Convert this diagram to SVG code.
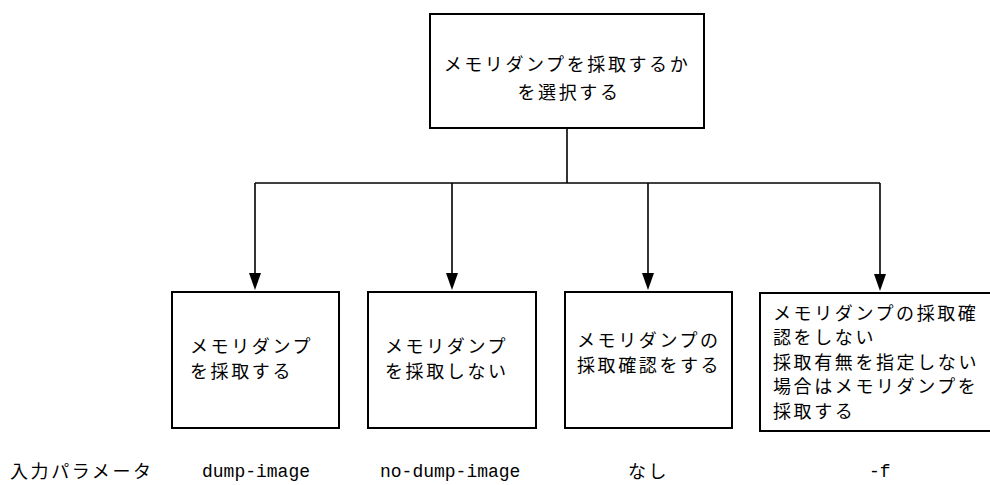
<svg xmlns="http://www.w3.org/2000/svg" width="990" height="485" viewBox="0 0 990 485">
<style>
.box{fill:#fff;stroke:#000;stroke-width:2}
.ln{fill:none;stroke:#000;stroke-width:1.6}
.jp{font-family:"Noto Sans CJK JP","Noto Sans CJK SC",sans-serif;font-size:18px;letter-spacing:2.6px;fill:#000}
.mono{font-family:"Liberation Mono",monospace;font-size:18px;fill:#000}
</style>
<rect width="990" height="485" fill="#fff"/>
<g id="connectors">
<line class="ln" x1="567" y1="128" x2="567" y2="183"/>
<line class="ln" x1="255" y1="183" x2="880" y2="183"/>
<line class="ln" x1="255" y1="183" x2="255" y2="274"/>
<path d="M249,273 L261,273 L255,290 Z" fill="#000"/>
<line class="ln" x1="452" y1="183" x2="452" y2="274"/>
<path d="M446,273 L458,273 L452,290 Z" fill="#000"/>
<line class="ln" x1="648" y1="183" x2="648" y2="274"/>
<path d="M642,273 L654,273 L648,290 Z" fill="#000"/>
<line class="ln" x1="880" y1="183" x2="880" y2="275"/>
<path d="M874,274 L886,274 L880,291 Z" fill="#000"/>
</g>
<g id="top">
<rect class="box" x="430" y="14" width="274" height="114"/>
<text class="jp" x="567" y="71" text-anchor="middle">メモリダンプを採取するか</text>
<text class="jp" x="569" y="99" text-anchor="middle">を選択する</text>
</g>
<g id="n1">
<rect class="box" x="172" y="292" width="167" height="136"/>
<text class="jp" x="190" y="353">メモリダンプ</text>
<text class="jp" x="190" y="378">を採取する</text>
</g>
<g id="n2">
<rect class="box" x="368" y="292" width="168" height="136"/>
<text class="jp" x="385" y="353">メモリダンプ</text>
<text class="jp" x="385" y="378">を採取しない</text>
</g>
<g id="n3">
<rect class="box" x="565" y="292" width="167" height="136"/>
<text class="jp" x="577" y="347">メモリダンプの</text>
<text class="jp" x="577" y="372">採取確認をする</text>
</g>
<g id="n4">
<rect class="box" x="760" y="293" width="240" height="138"/>
<text class="jp" x="773" y="320">メモリダンプの採取確</text>
<text class="jp" x="773" y="344">認をしない</text>
<text class="jp" x="773" y="369">採取有無を指定しない</text>
<text class="jp" x="773" y="393">場合はメモリダンプを</text>
<text class="jp" x="773" y="418">採取する</text>
</g>
<g id="params">
<text class="jp" x="10" y="478">入力パラメータ</text>
<text class="mono" x="202" y="477">dump-image</text>
<text class="mono" x="380" y="477">no-dump-image</text>
<text class="jp" x="628" y="478">なし</text>
<text class="mono" x="869" y="477">-f</text>
</g>
</svg>
